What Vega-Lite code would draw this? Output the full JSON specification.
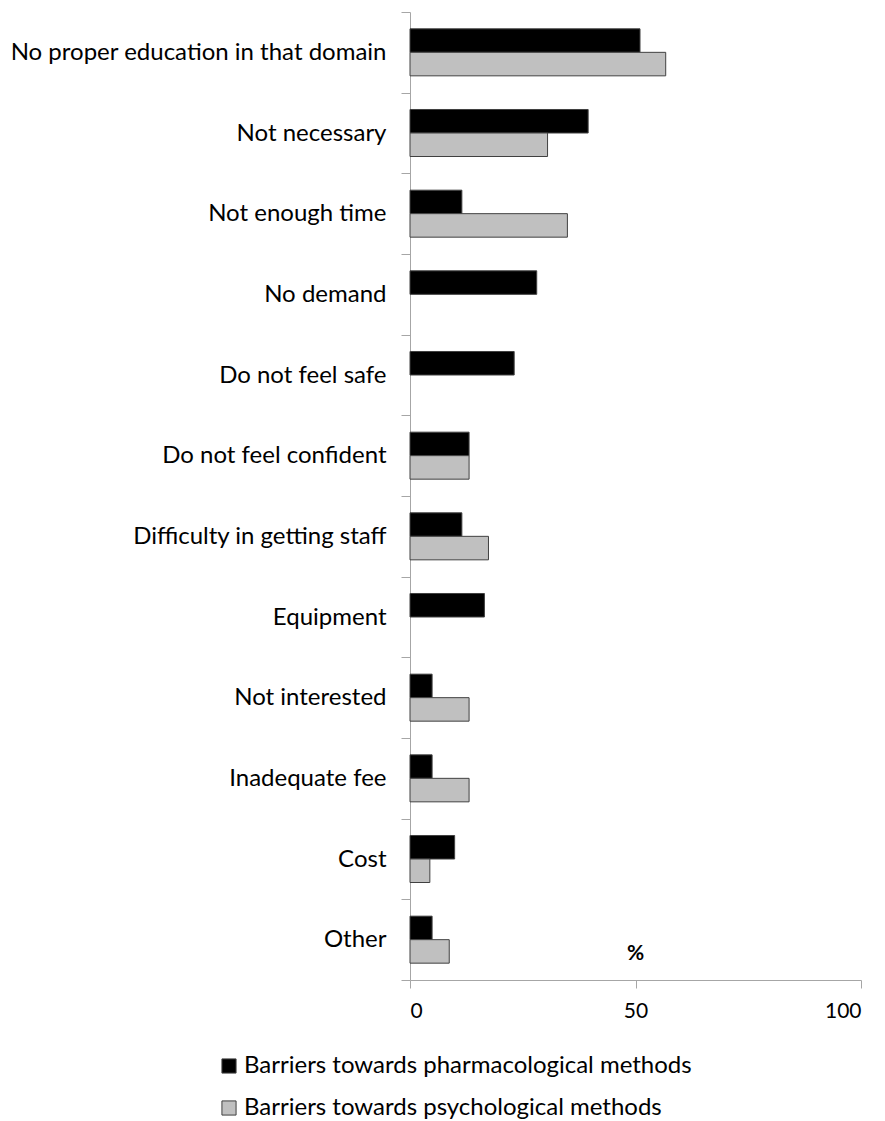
{
  "$schema": "https://vega.github.io/schema/vega-lite/v6.json",
  "width": 451,
  "height": 968,
  "autosize": {"type": "none"},
  "padding": {"left": 410, "top": 12, "right": 24, "bottom": 141},
  "background": "white",
  "config": {
    "view": {"stroke": null},
    "font": "Lato",
    "axis": {"labelFont": "Lato", "titleFont": "Lato", "grid": false}
  },
  "data": {
    "values": [
      {"barrier": "No proper education in that domain", "series": "Barriers towards pharmacological methods", "pct": 51.0},
      {"barrier": "No proper education in that domain", "series": "Barriers towards psychological methods", "pct": 56.7},
      {"barrier": "Not necessary", "series": "Barriers towards pharmacological methods", "pct": 39.5},
      {"barrier": "Not necessary", "series": "Barriers towards psychological methods", "pct": 30.5},
      {"barrier": "Not enough time", "series": "Barriers towards pharmacological methods", "pct": 11.5},
      {"barrier": "Not enough time", "series": "Barriers towards psychological methods", "pct": 34.9},
      {"barrier": "No demand", "series": "Barriers towards pharmacological methods", "pct": 28.1},
      {"barrier": "Do not feel safe", "series": "Barriers towards pharmacological methods", "pct": 23.1},
      {"barrier": "Do not feel confident", "series": "Barriers towards pharmacological methods", "pct": 13.1},
      {"barrier": "Do not feel confident", "series": "Barriers towards psychological methods", "pct": 13.1},
      {"barrier": "Difficulty in getting staff", "series": "Barriers towards pharmacological methods", "pct": 11.5},
      {"barrier": "Difficulty in getting staff", "series": "Barriers towards psychological methods", "pct": 17.4},
      {"barrier": "Equipment", "series": "Barriers towards pharmacological methods", "pct": 16.5},
      {"barrier": "Not interested", "series": "Barriers towards pharmacological methods", "pct": 4.9},
      {"barrier": "Not interested", "series": "Barriers towards psychological methods", "pct": 13.1},
      {"barrier": "Inadequate fee", "series": "Barriers towards pharmacological methods", "pct": 4.9},
      {"barrier": "Inadequate fee", "series": "Barriers towards psychological methods", "pct": 13.1},
      {"barrier": "Cost", "series": "Barriers towards pharmacological methods", "pct": 9.9},
      {"barrier": "Cost", "series": "Barriers towards psychological methods", "pct": 4.4},
      {"barrier": "Other", "series": "Barriers towards pharmacological methods", "pct": 4.9},
      {"barrier": "Other", "series": "Barriers towards psychological methods", "pct": 8.7}
    ]
  },
  "mark": {"type": "bar", "stroke": "#404040", "strokeWidth": 1},
  "encoding": {
    "y": {
      "field": "barrier",
      "type": "nominal",
      "sort": null,
      "scale": {"paddingInner": 0, "paddingOuter": 0},
      "axis": {
        "title": null,
        "tickBand": "extent",
        "tickSize": 9,
        "tickColor": "#a6a6a6",
        "domainColor": "#a6a6a6",
        "labelFontSize": 24,
        "labelColor": "#000000",
        "labelPadding": 15,
        "labelLimit": 500
      }
    },
    "yOffset": {
      "field": "series",
      "type": "nominal",
      "sort": ["Barriers towards pharmacological methods", "Barriers towards psychological methods"],
      "scale": {"paddingInner": 0, "paddingOuter": 0.716}
    },
    "x": {
      "field": "pct",
      "type": "quantitative",
      "scale": {"domain": [0, 100], "nice": false},
      "axis": {
        "title": "%",
        "titleFontSize": 21,
        "titleFontWeight": "bold",
        "titleX": 225,
        "titleY": -27,
        "titleBaseline": "middle",
        "values": [0, 50, 100],
        "tickSize": 8,
        "tickColor": "#a6a6a6",
        "domainColor": "#a6a6a6",
        "labelFontSize": 21,
        "labelColor": "#000000",
        "labelPadding": 12
      }
    },
    "color": {
      "field": "series",
      "type": "nominal",
      "scale": {
        "domain": ["Barriers towards pharmacological methods", "Barriers towards psychological methods"],
        "range": ["#000000", "#c0c0c0"]
      },
      "legend": {
        "title": null,
        "orient": "none",
        "legendX": -193,
        "legendY": 1042,
        "direction": "vertical",
        "symbolType": "square",
        "symbolSize": 200,
        "symbolStrokeColor": "#404040",
        "symbolStrokeWidth": 1,
        "labelFontSize": 24,
        "labelColor": "#000000",
        "labelLimit": 700,
        "rowPadding": 18,
        "labelOffset": 3
      }
    }
  }
}
